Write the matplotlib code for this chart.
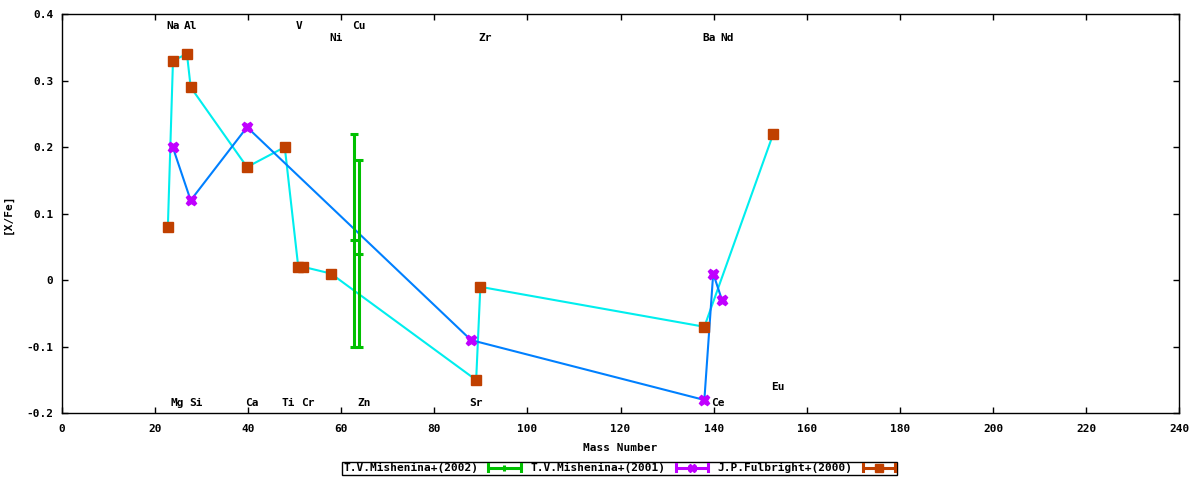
"""
[X/Fe] against mass number, three abundance studies
"""

import numpy as np
import matplotlib
matplotlib.use("Agg")
import matplotlib.pyplot as plt
from matplotlib.lines import Line2D
from matplotlib.legend_handler import HandlerBase
from matplotlib.ticker import FixedLocator, FuncFormatter

# T.V.Mishenina+(2002): points with error bars
mish02_x = [62.7, 63.8]
mish02_y = [0.06, 0.04]
mish02_err = [0.16, 0.14]

# T.V.Mishenina+(2001)
mish01_x = [23.85, 27.7, 39.8, 87.9, 138.0, 139.9, 141.8]
mish01_y = [0.20, 0.12, 0.23, -0.09, -0.18, 0.01, -0.03]

# J.P.Fulbright+(2000)
fulb_x = [22.8, 23.9, 26.9, 27.7, 39.8, 47.9, 50.8, 51.9, 57.8, 89.0, 89.9, 138.0, 152.8]
fulb_y = [0.08, 0.33, 0.34, 0.29, 0.17, 0.20, 0.02, 0.02, 0.01, -0.15, -0.01, -0.07, 0.22]

# element labels
elem_names = ["Na", "Al", "V", "Cu", "Ni", "Zr", "Ba", "Nd",
              "Mg", "Si", "Ca", "Ti", "Cr", "Zn", "Sr", "Ce", "Eu"]
elem_x = [22.4, 26.3, 50.3, 62.3, 57.4, 89.4, 137.5, 141.4,
          23.3, 27.3, 39.4, 47.3, 51.4, 63.4, 87.5, 139.4, 152.3]
elem_y = [0.382, 0.382, 0.382, 0.382, 0.364, 0.364, 0.364, 0.364,
          -0.185, -0.185, -0.185, -0.185, -0.185, -0.185, -0.185, -0.185, -0.161]

GREEN = "#00c000"
BLUE = "#0080ff"
MAGENTA = "#c000ff"
CYAN = "#00eeee"
BROWN = "#c04000"

plt.rcParams["font.family"] = ["DejaVu Sans Mono"]
plt.rcParams["font.weight"] = "bold"
plt.rcParams["font.size"] = 8


class CapHandler(HandlerBase):
    # gnuplot style key sample: horizontal bar with end caps and point in the middle
    def create_artists(self, legend, orig, xdescent, ydescent, width, height, fontsize, trans):
        c = orig.get_color()
        x0 = -xdescent
        x1 = -xdescent + width
        y = (height - ydescent) / 2
        hh = height * 0.4
        arts = [
            Line2D([x0, x1], [y, y], color=c, lw=2.2, solid_capstyle="butt"),
            Line2D([x0, x0], [y - hh, y + hh], color=c, lw=2.2),
            Line2D([x1, x1], [y - hh, y + hh], color=c, lw=2.2),
            Line2D([(x0 + x1) / 2], [y], color=c, marker=orig.get_marker(),
                   ms=orig.get_markersize(), mew=orig.get_markeredgewidth(), lw=0),
        ]
        for a in arts:
            a.set_transform(trans)
        return arts


fig = plt.figure(figsize=(12, 4.8), dpi=100)
ax = fig.add_axes([0.0514, 0.139, 0.9314, 0.8318])

ax.plot(fulb_x, fulb_y, color=CYAN, lw=1.5, zorder=2)
ax.plot(mish01_x, mish01_y, color=BLUE, lw=1.5, zorder=2)

ax.errorbar(mish02_x, mish02_y, yerr=mish02_err, fmt="_", color=GREEN, ms=6, mew=2.2,
            elinewidth=2.2, capsize=3, capthick=2.2, zorder=3)
ax.plot(mish01_x, mish01_y, ls="none", marker="X", ms=7.5, color=MAGENTA, mec=MAGENTA, zorder=4)
ax.plot(fulb_x, fulb_y, ls="none", marker="s", ms=7, color=BROWN, mec=BROWN, zorder=4)

for name, x, y in zip(elem_names, elem_x, elem_y):
    ax.text(x, y, name, ha="left", va="center", fontsize=8, fontweight="bold")

ax.set_xlim(0, 240)
ax.set_ylim(-0.2, 0.4)
ax.xaxis.set_major_locator(FixedLocator(np.arange(0, 241, 20)))
ax.yaxis.set_major_locator(FixedLocator(np.arange(-0.2, 0.41, 0.1)))
ax.yaxis.set_major_formatter(FuncFormatter(lambda v, p: "0" if abs(v) < 1e-9 else f"{v:.1f}"))
ax.tick_params(direction="in", top=True, right=True, length=4, width=1, labelsize=8)
ax.tick_params(axis="x", pad=8)
ax.tick_params(axis="y", pad=6)
for s in ax.spines.values():
    s.set_linewidth(1)
    s.set_color("black")

ax.set_xlabel("Mass Number", fontsize=8, fontweight="bold", labelpad=6)
ax.set_ylabel("[X/Fe]", fontsize=8, fontweight="bold", labelpad=10)

handles = [
    Line2D([], [], color=GREEN, marker="|", ms=5, mew=2.2),
    Line2D([], [], color=MAGENTA, marker="X", ms=6, mew=1),
    Line2D([], [], color=BROWN, marker="s", ms=5.5, mew=1),
]
labels = ["T.V.Mishenina+(2002)", "T.V.Mishenina+(2001)", "J.P.Fulbright+(2000)"]
leg = fig.legend(handles, labels, loc="center", bbox_to_anchor=(0.516, 0.024), ncol=3,
                 handler_map={Line2D: CapHandler()}, markerfirst=False, fancybox=False,
                 edgecolor="black", framealpha=1, borderpad=0.15, handlelength=2.9,
                 handletextpad=0.9, columnspacing=0.9, borderaxespad=0, fontsize=8)
leg.get_frame().set_linewidth(1)

fig.savefig("out.png", dpi=100)
